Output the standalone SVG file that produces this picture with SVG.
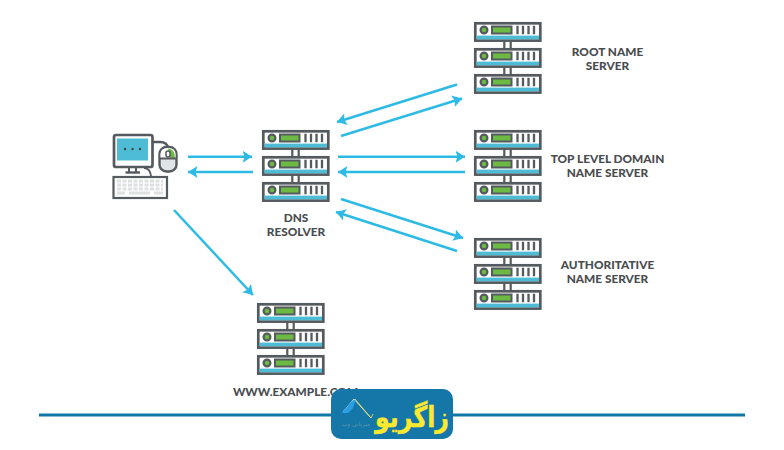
<svg xmlns="http://www.w3.org/2000/svg" width="784" height="450" viewBox="0 0 784 450">
<style>
.o{fill:none;stroke:#555a5e;stroke-width:2.4}
.lb{font-family:Lato,"Liberation Sans",sans-serif;font-weight:900;font-size:11.8px;fill:#4a4d50;text-anchor:middle}
.c{fill:none;stroke:#2dbbe6;stroke-width:2.5}
.h{fill:#2dbbe6}
</style>
<defs>
<marker id="ah" viewBox="0 0 10 12" refX="9.500" refY="6" markerUnits="userSpaceOnUse" markerWidth="10" markerHeight="12" orient="auto"><path class="h" d="M0 0L9.500 6L0 12L2 6Z"/></marker>
<g id="unit">
<rect x="1.300" y="1.300" width="65" height="17.300" fill="#fff" stroke="#555a5e" stroke-width="2.700"/>
<rect x="2.600" y="13.600" width="62.400" height="3.700" fill="#4dbcd4"/>
<circle cx="10" cy="8" r="3.400" fill="#6cb944" stroke="#555a5e" stroke-width="2.200"/>
<rect x="18" y="4.500" width="19.500" height="7" fill="#6cb944" stroke="#555a5e" stroke-width="2"/>
<path d="M43.500 3.800v8.400M49 3.800v8.400M54.500 3.800v8.400M60 3.800v8.400" fill="none" stroke="#555a5e" stroke-width="2.300"/>
</g>
<g id="srv">
<path d="M30.300 19v7M36.700 19v7M30.300 45v7M36.700 45v7" fill="none" stroke="#555a5e" stroke-width="2.200"/>
<use href="#unit"/><use href="#unit" y="26"/><use href="#unit" y="52"/>
</g>
</defs>
<rect width="784" height="450" fill="#fff"/>
<g id="connectors">
<path class="c" marker-end="url(#ah)" d="M188 156.700H252"/>
<path class="c" marker-end="url(#ah)" d="M253 172H188"/>
<path class="c" marker-end="url(#ah)" d="M174 210L253 295"/>
<path class="c" marker-end="url(#ah)" d="M457 84.500L337 122"/>
<path class="c" marker-end="url(#ah)" d="M341 136L462 98.500"/>
<path class="c" marker-end="url(#ah)" d="M338 156.700H465"/>
<path class="c" marker-end="url(#ah)" d="M465 172H338"/>
<path class="c" marker-end="url(#ah)" d="M341 199L463 238"/>
<path class="c" marker-end="url(#ah)" d="M457 251L336 212"/>
</g>
<g id="computer">
<path class="o" stroke-width="1.800" d="M153 142H160Q167 142 168 148"/>
<rect x="114" y="135" width="38.500" height="32" rx="2" fill="#fff" stroke="#555a5e" stroke-width="2.700"/>
<rect x="117" y="138.500" width="31" height="22" fill="#4dbcd4"/>
<circle cx="125" cy="149" r="1.200" fill="#444"/><circle cx="132.500" cy="149" r="1.200" fill="#444"/><circle cx="140" cy="149" r="1.200" fill="#444"/>
<path d="M129 167.500V172M136 167.500V172" fill="none" stroke="#555a5e" stroke-width="2"/>
<path d="M125.500 172.500H140" fill="none" stroke="#555a5e" stroke-width="2.400"/>
<path d="M144 168Q150 168 151 176" fill="none" stroke="#555a5e" stroke-width="1.800"/>
<rect x="113.500" y="177" width="53.500" height="21" fill="#fff" stroke="#555a5e" stroke-width="2.200"/>
<path d="M117 181H163M117 185H163M117 189H163" fill="none" stroke="#dde1e2" stroke-width="3" stroke-dasharray="4 1.500"/>
<path d="M117 193H125M129 193H150M154 193H163" fill="none" stroke="#dde1e2" stroke-width="3"/>
<rect x="159.500" y="147" width="17" height="24.500" rx="7" fill="#dfe4e6" stroke="#555a5e" stroke-width="2.400"/>
<path d="M160.500 158V154Q160.500 148 168 148Q175.500 148 175.500 154V158Z" fill="#fff"/>
<path d="M168 148.500Q175 149 175 158H170Z" fill="#6cb944"/>
<path d="M160 158.500H176" fill="none" stroke="#555a5e" stroke-width="2"/>
<rect x="166" y="151" width="4" height="6" rx="2" fill="#fff" stroke="#555a5e" stroke-width="1.500"/>
</g>
<g id="dns-resolver"><use href="#srv" x="262" y="130"/><text class="lb" x="296" y="222">DNS</text><text class="lb" x="296" y="236">RESOLVER</text></g>
<g id="root-server"><use href="#srv" x="474" y="22"/><text class="lb" x="607.500" y="56">ROOT NAME</text><text class="lb" x="607.500" y="70">SERVER</text></g>
<g id="tld-server"><use href="#srv" x="474" y="130"/><text class="lb" x="607.500" y="163">TOP LEVEL DOMAIN</text><text class="lb" x="607.500" y="177">NAME SERVER</text></g>
<g id="auth-server"><use href="#srv" x="474" y="238"/><text class="lb" x="607.500" y="269">AUTHORITATIVE</text><text class="lb" x="607.500" y="283">NAME SERVER</text></g>
<g id="web-server"><use href="#srv" x="257" y="303"/><text class="lb" x="295.500" y="396">WWW.EXAMPLE.COM</text></g>
<path id="rule" d="M39 415H745" fill="none" stroke="#1177a8" stroke-width="3"/>
<g id="logo">
<rect x="331" y="389" width="122" height="50" rx="10" fill="#1477a8"/>
<path d="M343 412L354 399L371 418" fill="none" stroke="#e6edf0" stroke-width="0.900"/>
<path d="M342 413L351 402L356 399L353 408L348 413Z" fill="#2b9fe6"/>
<path d="M355 399L371 418L373 414" fill="none" stroke="#f7e436" stroke-width="0.800"/>
<text x="356" y="426" font-family="'Noto Sans','DejaVu Sans',sans-serif" font-size="6" fill="#5f93ad" text-anchor="middle" direction="rtl">میزبانی وب</text>
<text x="412" y="427" font-family="'DejaVu Sans',sans-serif" font-weight="700" font-size="29" fill="#fde92f" stroke="#fde92f" stroke-width="0.500" text-anchor="middle" direction="rtl" textLength="74" lengthAdjust="spacingAndGlyphs">زاگریو</text>
</g>
</svg>
